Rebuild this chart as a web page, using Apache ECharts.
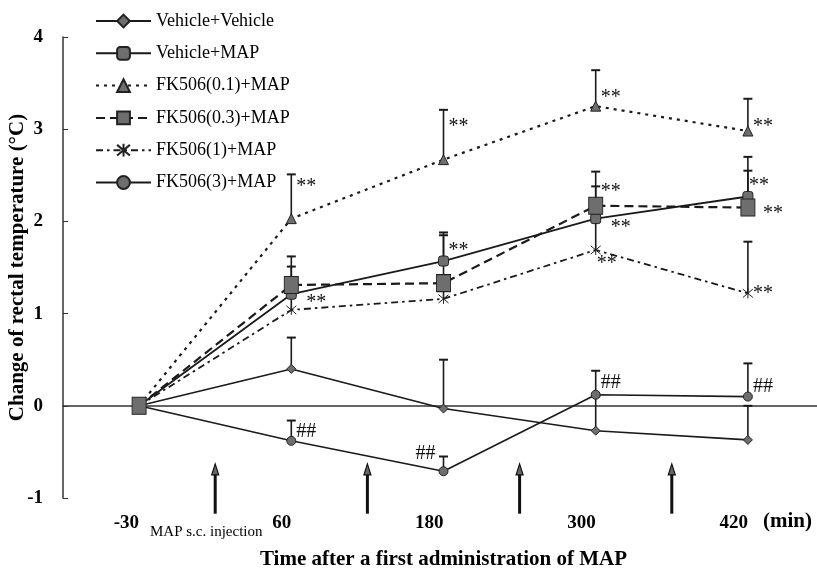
<!DOCTYPE html>
<html>
<head>
<meta charset="utf-8">
<script src="https://cdn.jsdelivr.net/npm/echarts@6/dist/echarts.min.js"></script>
<style>html,body{margin:0;padding:0;background:#fff}#c{width:817px;height:568px}</style>
</head>
<body>
<div id="c"></div>
<script>
// ---- data ----
const categories = ['-30', '60', '180', '300', '420'];
const yTicks = [-1, 0, 1, 2, 3, 4];

const vehVeh    = [0, 0.40, -0.03, -0.27, -0.37];
const vehVehErr = [null, 0.74, 0.50, 0.10, 0.00];
const vehMap    = [0, 1.21, 1.57, 2.03, 2.27];
const vehMapErr = [null, 1.51, 1.85, 2.38, 2.70];
const fk01      = [0, 2.03, 2.67, 3.25, 2.98];
const fk01Err   = [null, 2.51, 3.21, 3.64, 3.33];
const fk03      = [0, 1.31, 1.33, 2.17, 2.15];
const fk03Err   = [null, 1.62, 1.88, 2.54, 2.55];
const fk1       = [0, 1.04, 1.16, 1.69, 1.22];
const fk1Err    = [null, 1.20, 1.40, 2.00, 1.78];
const fk3       = [0, -0.38, -0.71, 0.12, 0.10];
const fk3Err    = [null, -0.16, -0.55, 0.38, 0.46];

// significance marks: [category index, value, text, anchor]
const sigMarks = [
  [1, 2.42, '**', 'r'], [2, 3.07, '**', 'r'], [3, 3.38, '**', 'r'], [4, 3.07, '**', 'r'],
  [1, 1.16, '**', 'rr'], [2, 1.73, '**', 'r'], [3, 2.36, '**', 'r'], [3, 1.97, '**', 'rr'],
  [3, 1.58, '**', 'c'], [4, 2.43, '**', 'c'], [4, 2.13, '**', 'rr'], [4, 1.26, '**', 'r'],
  [1, -0.28, '##', 'r'], [2, -0.52, '##', 'l'], [3, 0.25, '##', 'r'], [4, 0.21, '##', 'r']
];
// MAP injections between categories (after index i), arrow value range
const injectionAfter = [0, 1, 2, 3];
const arrowTop = -0.63, arrowBottom = -1.17;

// ---- chart ----
const serif = 'Liberation Serif';
const lineCol = '#1a1a1a';
const fillCol = '#6e6e6e';
const asterisk = 'path://M0,0L10,10M10,0L0,10M5,-1L5,11';

function lineSeries(name, data, lineType, width, symbol, size, z) {
  return {
    name, type: 'line', data, z: z || 3,
    symbol, symbolSize: size,
    lineStyle: { color: lineCol, width: width, type: lineType },
    itemStyle: { color: fillCol, borderColor: '#222', borderWidth: 1 },
    emphasis: { disabled: true },
    animation: false
  };
}

const errData = [];
[[vehVeh, vehVehErr], [vehMap, vehMapErr], [fk01, fk01Err], [fk03, fk03Err], [fk1, fk1Err], [fk3, fk3Err]]
  .forEach(([m, e]) => m.forEach((v, i) => { if (e[i] !== null) errData.push([i, v, e[i]]); }));

const chart = echarts.init(document.getElementById('c'));
chart.setOption({
  animation: false,
  grid: { left: 63, top: 37, width: 761, height: 461, containLabel: false, outerBoundsMode: 'none' },
  legend: {
    data: ['Vehicle+Vehicle', 'Vehicle+MAP', 'FK506(0.1)+MAP', 'FK506(0.3)+MAP', 'FK506(1)+MAP', 'FK506(3)+MAP'],
    orient: 'vertical', left: 95, top: 12, padding: 0,
    itemWidth: 55, itemHeight: 16, itemGap: 14.3,
    textStyle: { fontFamily: serif, fontSize: 18, color: '#000' },
    selectedMode: false
  },
  xAxis: [{
    type: 'category', data: categories, boundaryGap: true,
    axisLine: { onZero: true, lineStyle: { color: '#333', width: 1.5 } },
    axisTick: { inside: true, length: 5, lineStyle: { color: '#333' } },
    axisLabel: { show: false }
  }, {
    type: 'category', data: categories, boundaryGap: true, position: 'bottom', offset: 0,
    axisLine: { show: false, onZero: false },
    axisTick: { show: false },
    axisLabel: { margin: 16, align: 'right', fontFamily: serif, fontWeight: 'bold', fontSize: 19, color: '#000' },
    name: 'Time after a first administration of MAP',
    nameLocation: 'middle', nameGap: 51, nameMoveOverlap: false,
    nameTextStyle: { fontFamily: serif, fontWeight: 'bold', fontSize: 21, color: '#000' }
  }],
  yAxis: {
    type: 'value', min: yTicks[0], max: yTicks[yTicks.length - 1], interval: 1,
    splitLine: { show: false },
    axisLine: { show: true, lineStyle: { color: '#333', width: 1.5 } },
    axisTick: { show: true, inside: true, length: 5, lineStyle: { color: '#333' } },
    axisLabel: { margin: 20, fontFamily: serif, fontWeight: 'bold', fontSize: 19, color: '#000' },
    name: 'Change of rectal temperature (\u00B0C)',
    nameLocation: 'middle', nameRotate: 90, nameGap: 35, nameMoveOverlap: false,
    nameTextStyle: { fontFamily: serif, fontWeight: 'bold', fontSize: 21, color: '#000' }
  },
  graphic: [
    { type: 'text', left: 763, top: 511, style: { text: '(min)', font: 'bold 21px "Liberation Serif"', fill: '#000' } },
    { type: 'text', left: 150, top: 525, style: { text: 'MAP s.c. injection', font: '15px "Liberation Serif"', fill: '#000' } }
  ],
  series: [
    {
      type: 'custom', name: 'err', z: 2, data: errData, silent: true,
      renderItem: function (params, api) {
        const x = api.coord([api.value(0), api.value(1)])[0];
        const y0 = api.coord([api.value(0), api.value(1)])[1];
        const y1 = api.coord([api.value(0), api.value(2)])[1];
        return { type: 'group', children: [
          { type: 'line', shape: { x1: x, y1: y0, x2: x, y2: y1 }, style: { stroke: '#1a1a1a', lineWidth: 1.6 } },
          { type: 'line', shape: { x1: x - 4.5, y1: y1, x2: x + 4.5, y2: y1 }, style: { stroke: '#1a1a1a', lineWidth: 2 } }
        ] };
      }
    },
    lineSeries('Vehicle+Vehicle', vehVeh, 'solid', 1.6, 'diamond', 9, 3),
    lineSeries('Vehicle+MAP', vehMap, 'solid', 1.8, 'roundRect', 10, 3),
    lineSeries('FK506(0.1)+MAP', fk01, [3, 5], 2.2, 'triangle', 10, 3),
    lineSeries('FK506(1)+MAP', fk1, [7, 4, 2.5, 4], 1.8, asterisk, 10, 3),
    lineSeries('FK506(3)+MAP', fk3, 'solid', 1.6, 'circle', 9, 3),
    lineSeries('FK506(0.3)+MAP', fk03, [9, 5], 2.2, 'rect', [14, 17], 4),
    {
      type: 'custom', name: 'sig', z: 5, data: sigMarks, silent: true,
      renderItem: function (params, api) {
        const p = api.coord([api.value(0), api.value(1)]);
        const m = sigMarks[params.dataIndex];
        const a = m[3];
        const dx = a === 'c' ? 1 : a === 'r' ? 5 : a === 'rr' ? 15 : -8;
        const dy = m[2] === '**' ? 4 : 0;
        return { type: 'text', style: {
          x: p[0] + dx, y: p[1] + dy, text: m[2],
          font: '20px "Liberation Serif"', fill: '#111',
          align: a === 'l' ? 'right' : 'left', verticalAlign: 'middle'
        } };
      }
    },
    {
      type: 'custom', name: 'arrows', z: 2, silent: true,
      data: injectionAfter.map(i => [i, arrowTop, arrowBottom]),
      renderItem: function (params, api) {
        const band = api.size([1, 0])[0];
        const top = api.coord([api.value(0), api.value(1)]);
        const bot = api.coord([api.value(0), api.value(2)]);
        const x = top[0] + band / 2;
        return { type: 'group', children: [
          { type: 'line', shape: { x1: x, y1: top[1] + 8, x2: x, y2: bot[1] }, style: { stroke: '#111', lineWidth: 3 } },
          { type: 'polygon', shape: { points: [[x, top[1]], [x - 3.5, top[1] + 11], [x + 3.5, top[1] + 11]] }, style: { fill: '#666', stroke: '#111', lineWidth: 1.2 } }
        ] };
      }
    }
  ]
});
</script>
</body>
</html>
